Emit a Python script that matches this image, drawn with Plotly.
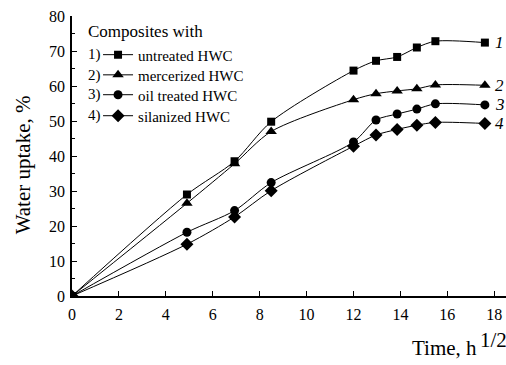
import plotly.graph_objects as go

time_sqrt = [0, 4.9, 6.93, 8.49, 12.0, 12.96, 13.86, 14.7, 15.49, 17.6]
untreated = [0, 29.0, 38.5, 49.8, 64.4, 67.2, 68.3, 71.0, 72.8, 72.4]
mercerized = [0, 26.5, 37.8, 47.0, 56.1, 57.8, 58.6, 59.2, 60.3, 60.2]
oil_treated = [0, 18.2, 24.4, 32.4, 44.0, 50.3, 52.0, 53.4, 54.9, 54.6]
silanized = [0, 14.8, 22.6, 30.1, 42.8, 46.0, 47.6, 48.8, 49.6, 49.3]

series_names = ["untreated HWC", "mercerized HWC", "oil treated HWC", "silanized HWC"]
series_values = [untreated, mercerized, oil_treated, silanized]
symbols = ["square", "triangle-up", "circle", "diamond"]
sizes = [8, 10, 9, 10]
end_labels = ["1", "2", "3", "4"]
prefixes = ["1)", "2)", "3)", "4)"]

FONT = "Liberation Serif, Times New Roman, serif"

legend_ids = ["legend", "legend2", "legend3", "legend4"]
legend_y = [0.861, 0.789, 0.718, 0.643]

fig = go.Figure()
for name, vals, sym, sz, lid in zip(series_names, series_values, symbols, sizes, legend_ids):
    fig.add_trace(go.Scatter(
        x=time_sqrt, y=vals, name=name, mode="lines+markers",
        line=dict(color="black", width=1, shape="spline", smoothing=0.8),
        marker=dict(symbol=sym, size=sz, color="black"),
        legend=lid,
    ))

# end labels
for lab, vals in zip(end_labels, series_values):
    fig.add_annotation(x=time_sqrt[-1], y=vals[-1], text="<i>" + lab + "</i>",
                       showarrow=False, xanchor="left", xshift=8,
                       font=dict(family=FONT, size=17, color="black"))

# legend title and prefixes
fig.add_annotation(xref="paper", yref="paper", x=0.032, y=0.946, text="Composites with",
                   showarrow=False, xanchor="left", yanchor="middle",
                   font=dict(family=FONT, size=17, color="black"))
for p, yy in zip(prefixes, legend_y):
    fig.add_annotation(xref="paper", yref="paper", x=0.032, y=yy, text=p,
                       showarrow=False, xanchor="left", yanchor="middle",
                       font=dict(family=FONT, size=15, color="black"))

# axis titles
fig.add_annotation(xref="paper", yref="paper", x=-0.113, y=0.47, text="Water uptake, %",
                   textangle=-90, showarrow=False, xanchor="center", yanchor="middle",
                   font=dict(family=FONT, size=21, color="black"))
fig.add_annotation(xref="paper", yref="paper", x=0.937, y=-0.185, text="Time, h",
                   showarrow=False, xanchor="right", yanchor="middle",
                   font=dict(family=FONT, size=21, color="black"))
fig.add_annotation(xref="paper", yref="paper", x=0.935, y=-0.157, text="1/2",
                   showarrow=False, xanchor="left", yanchor="middle",
                   font=dict(family=FONT, size=21, color="black"))

legend_layout = {}
for lid, yy in zip(legend_ids, legend_y):
    legend_layout[lid] = dict(x=0.060, y=yy, xanchor="left", yanchor="middle",
                              bgcolor="rgba(0,0,0,0)",
                              font=dict(family=FONT, size=15, color="black"),
                              itemwidth=30, borderwidth=0)

fig.update_layout(
    template="none",
    width=506, height=365,
    margin=dict(l=72, r=0, t=16, b=69, autoexpand=False),
    paper_bgcolor="white", plot_bgcolor="white",
    font=dict(family=FONT, size=15, color="black"),
    showlegend=True,
    **legend_layout,
)
fig.update_xaxes(range=[0, 18.5], tickvals=[0, 2, 4, 6, 8, 10, 12, 14, 16, 18],
                 ticks="inside", ticklen=5, tickcolor="black", showline=True,
                 linecolor="black", linewidth=1.5, showgrid=False, zeroline=False,
                 automargin=False,
                 tickfont=dict(family=FONT, size=16), ticklabelstandoff=3)
fig.update_yaxes(range=[0, 80], tickvals=[0, 10, 20, 30, 40, 50, 60, 70, 80],
                 ticks="inside", ticklen=5, tickcolor="black", showline=True,
                 linecolor="black", linewidth=1.5, showgrid=False, zeroline=False,
                 automargin=False,
                 tickfont=dict(family=FONT, size=16), ticklabelstandoff=2,
                 minor=dict(tickvals=[5, 15, 25, 35, 45, 55, 65, 75], ticks="inside",
                            ticklen=3, tickcolor="black"))

fig.write_html("out.html", config={"displayModeBar": False},
               post_script="document.body.style.margin='0px';")
